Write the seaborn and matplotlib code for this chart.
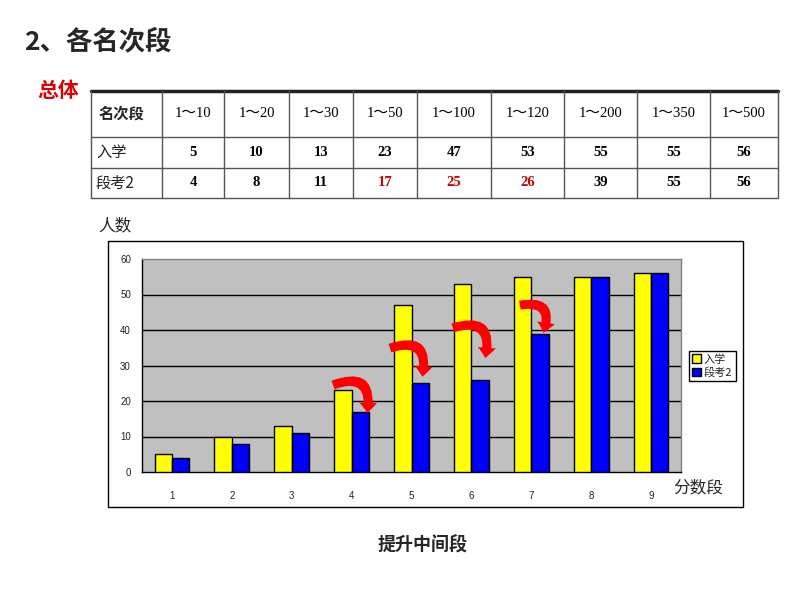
import matplotlib
matplotlib.use("Agg")
import matplotlib.pyplot as plt
from matplotlib.lines import Line2D
from matplotlib.patches import Rectangle, FancyArrowPatch
import seaborn as sns
import pandas as pd

# ---- data ----
rank_bands = ['1～10', '1～20', '1～30', '1～50', '1～100', '1～120', '1～200', '1～350', '1～500']
series_names = ['入学', '段考2']
enroll = [5, 10, 13, 23, 47, 53, 55, 55, 56]
exam2 = [4, 8, 11, 17, 25, 26, 39, 55, 56]
red_idx = [3, 4, 5]
x_labels = ['1', '2', '3', '4', '5', '6', '7', '8', '9']
y_ticks = [0, 10, 20, 30, 40, 50, 60]

sns.set_theme(style="white")
CJK = ['Noto Sans CJK SC', 'DejaVu Sans']
SERIF = ['Liberation Serif', 'Noto Sans CJK SC']
plt.rcParams['font.family'] = CJK

W, H = 800, 600
fig = plt.figure(figsize=(8, 6), dpi=100)
fig.patch.set_facecolor('white')


def P(x, y):
    return (x / W, 1 - y / H)


def ftext(x, y, s, **kw):
    fig.text(x / W, 1 - y / H, s, **kw)


def fline(x0, y0, x1, y1, **kw):
    fig.add_artist(Line2D([x0 / W, x1 / W], [1 - y0 / H, 1 - y1 / H],
                          transform=fig.transFigure, **kw))


# ---- titles ----
ftext(24, 42, '2、各名次段', fontsize=19, fontweight='bold', va='center', ha='left')
ftext(37, 91, '总体', fontsize=15, fontweight='bold', color='#DD0000', va='center', ha='left')

# ---- table ----
col_x = [91, 162, 224, 289, 353, 417, 491, 564, 637, 710, 778]
row_y = [91, 137, 168, 198]
for i, y in enumerate(row_y):
    fline(col_x[0], y, col_x[-1], y, color='#222222' if i == 0 else '#555555',
          lw=2.5 if i == 0 else 1)
for x in col_x:
    fline(x, row_y[0], x, row_y[-1], color='#555555', lw=1)

rows = [('名次段', rank_bands), ('入学', [str(v) for v in enroll]),
        ('段考2', [str(v) for v in exam2])]
for r, (head, vals) in enumerate(rows):
    yc = (row_y[r] + row_y[r + 1]) / 2
    if r == 0:
        ftext(col_x[0] + 8, yc, head, fontsize=11, fontweight='bold', va='center', ha='left')
    else:
        ftext(col_x[0] + 5, yc, head, fontsize=11, va='center', ha='left', color='#222222')
    for c, v in enumerate(vals):
        xc = (col_x[c + 1] + col_x[c + 2]) / 2
        color = '#CC0000' if (r == 2 and c in red_idx) else 'black'
        ftext(xc, yc, v, fontsize=10.5, fontweight='bold' if r > 0 else 'normal',
              family=SERIF, color=color, va='center', ha='center')

# ---- chart frame ----
fig.add_artist(Rectangle(P(108, 507), 635 / W, 266 / H, transform=fig.transFigure,
                         fill=False, edgecolor='black', lw=1))
ftext(98, 226, '人数', fontsize=12, va='center', ha='left')
ftext(673, 488, '分数段', fontsize=12, va='center', ha='left')

ax = fig.add_axes([142 / W, 1 - 472 / H, 539 / W, 213 / H])
ax.set_facecolor('#C0C0C0')

df = pd.DataFrame({
    'cat': x_labels * 2,
    'val': enroll + exam2,
    'series': [series_names[0]] * len(x_labels) + [series_names[1]] * len(x_labels),
})
sns.barplot(data=df, x='cat', y='val', hue='series', order=x_labels,
            hue_order=series_names, palette=['#FFFF00', '#0000FF'], saturation=1,
            edgecolor='black', linewidth=1, width=0.58, gap=0, ax=ax, zorder=3)

TICKF = ['Liberation Sans', 'DejaVu Sans']
ax.set_ylim(0, 60)
ax.set_xlim(-0.5, len(x_labels) - 0.5)
ax.set_yticks(y_ticks)
ax.set_yticklabels([str(v) for v in y_ticks], fontsize=7, family=TICKF, color='#222222')
ax.set_xticklabels(x_labels, fontsize=7, family=TICKF, color='#222222')
ax.tick_params(axis='x', length=0, pad=14)
ax.tick_params(axis='y', length=0, pad=8)
ax.set_xticks([i + 0.5 for i in range(len(x_labels) - 1)], minor=True)
ax.tick_params(axis='x', which='minor', length=4, direction='out', color='black', width=1)
ax.set_xlabel('')
ax.set_ylabel('')
for y in y_ticks[1:-1]:
    ax.axhline(y, color='black', lw=1, zorder=1)
for s in ['left', 'bottom']:
    ax.spines[s].set_color('black')
    ax.spines[s].set_linewidth(1)
for s in ['top', 'right']:
    ax.spines[s].set_color('#808080')
    ax.spines[s].set_linewidth(1)
ax.grid(False)

leg = ax.legend(loc='center left', bbox_to_anchor=(689 / W, 1 - 366 / H),
                bbox_transform=fig.transFigure, fontsize=8, frameon=True,
                fancybox=False, edgecolor='black', framealpha=1,
                handlelength=0.8, handleheight=0.8, handletextpad=0.25,
                borderpad=0.3, labelspacing=0.25, borderaxespad=0)
leg.get_frame().set_linewidth(1)

# ---- curved red arrows (annotations: start/end offsets in data units) ----
arrows = [
    (3, -0.31, 24.5, 0.26, 16.6),
    (4, -0.36, 34.9, 0.18, 26.8),
    (5, -0.31, 40.6, 0.23, 32.1),
    (6, -0.19, 47.0, 0.20, 39.2),
]
for i, dx0, y0, dx1, y1 in arrows:
    arr = FancyArrowPatch((i + dx0, y0), (i + dx1, y1),
                          connectionstyle='arc3,rad=-0.85',
                          arrowstyle='simple,head_width=13,head_length=7.5,tail_width=6.5',
                          color='#FF0000', lw=0, zorder=5, mutation_scale=1,
                          shrinkA=0, shrinkB=0)
    ax.add_patch(arr)

ftext(423, 545, '提升中间段', fontsize=13, fontweight='bold', va='center', ha='center')

fig.savefig('out.png', dpi=100)
